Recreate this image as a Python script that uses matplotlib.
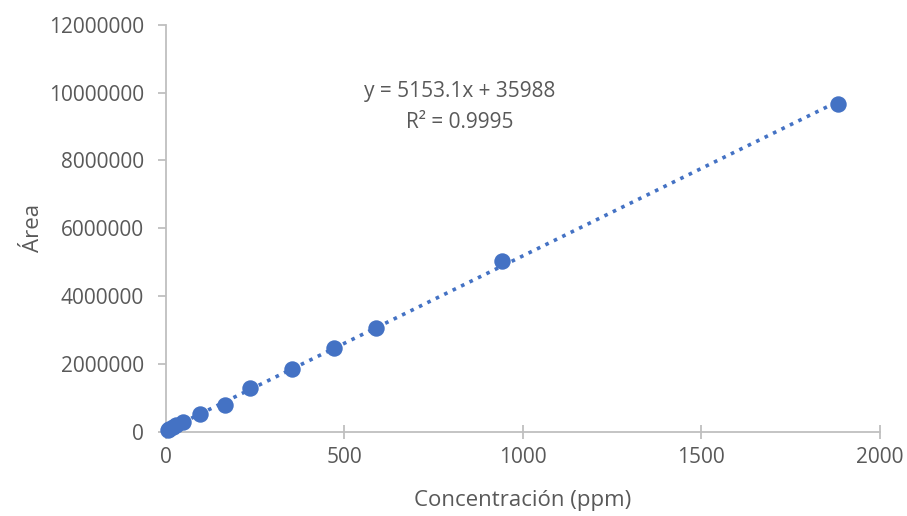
import matplotlib
matplotlib.use("Agg")
import matplotlib.pyplot as plt
import numpy as np

plt.rcParams['font.family'] = ['Open Sans', 'DejaVu Sans']

# Data
conc = [4.7, 9.4, 18.8, 28.2, 47, 94, 165, 235, 353, 470, 588, 941, 1883]
area = [60000, 90000, 140000, 190000, 280000, 520000, 790000, 1290000,
        1840000, 2460000, 3050000, 5050000, 9670000]
slope = 5153.1
intercept = 35988
eq_text = "y = 5153.1x + 35988"
r2_text = "R² = 0.9995"
xticks = [0, 500, 1000, 1500, 2000]
yticks = [0, 2000000, 4000000, 6000000, 8000000, 10000000, 12000000]

blue = "#4472C4"
gray = "#595959"
axis_col = "#BFBFBF"

fig = plt.figure(figsize=(9.07, 5.16), dpi=100)
ax = fig.add_axes([0.183, 0.163, 0.787, 0.789])

xs = np.array([0, max(conc)])
ax.plot(xs, slope * xs + intercept, linestyle=(0, (1, 1.6)), color=blue, lw=2.6, zorder=2)
ax.scatter(conc, area, s=140, color=blue, zorder=3, linewidths=0, clip_on=False)

ax.set_xlim(0, 2000)
ax.set_ylim(0, 12000000)
ax.set_xticks(xticks)
ax.set_yticks(yticks)
ax.set_xticklabels([str(v) for v in xticks])
ax.set_yticklabels([str(v) for v in yticks])

for s in ['top', 'right']:
    ax.spines[s].set_visible(False)
for s in ['left', 'bottom']:
    ax.spines[s].set_color(axis_col)
    ax.spines[s].set_linewidth(1.3)

ax.tick_params(axis='x', direction='inout', length=10, width=1.3, color=axis_col,
               labelcolor=gray, labelsize=15, pad=6)
ax.tick_params(axis='y', direction='out', length=6, width=1.3, color=axis_col,
               labelcolor=gray, labelsize=15, pad=10)

ax.set_xlabel("Concentración (ppm)", fontsize=16, color=gray, labelpad=16)
ax.set_ylabel("Área", fontsize=16, color=gray, labelpad=3)

ax.text(0.412, 0.835, eq_text, transform=ax.transAxes, ha='center', va='center',
        fontsize=15, color=gray)
ax.text(0.412, 0.76, r2_text, transform=ax.transAxes, ha='center', va='center',
        fontsize=15, color=gray)

fig.savefig("out.png", dpi=100)
